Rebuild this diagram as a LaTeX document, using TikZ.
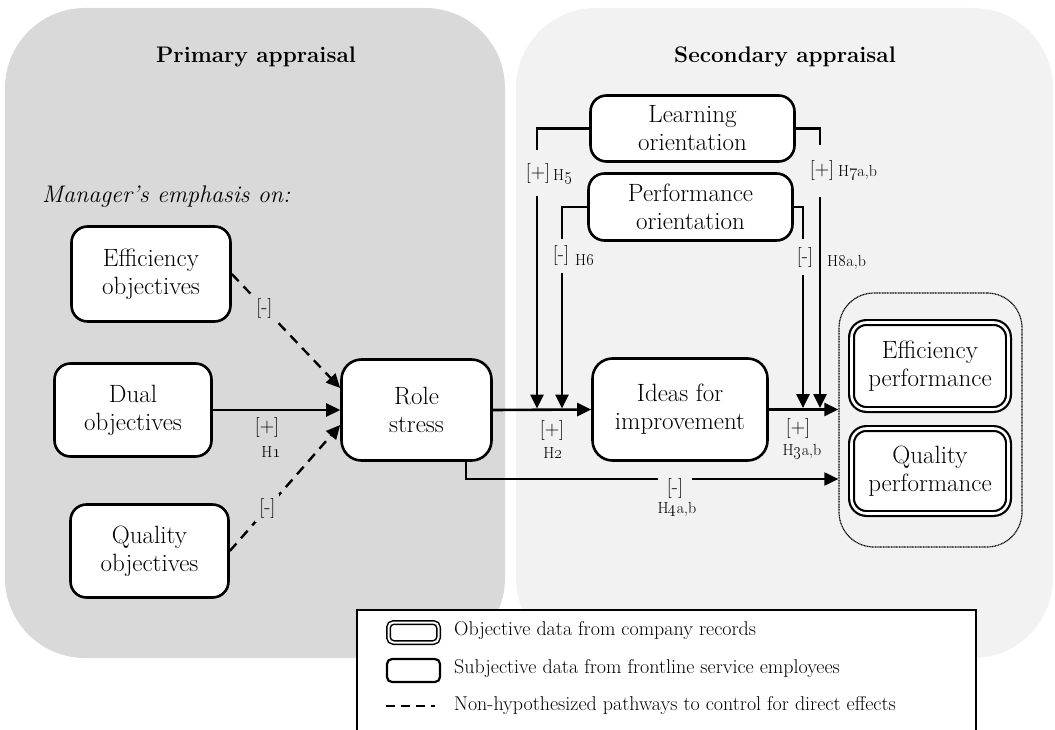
\documentclass[tikz,border=0pt]{standalone}
\usetikzlibrary{arrows.meta}
\definecolor{primbg}{HTML}{D9D9D9}
\definecolor{secbg}{HTML}{F2F2F2}
\newcommand{\osn}[1]{\oldstylenums{#1}}
\begin{document}
\begin{tikzpicture}[x=1pt,y=-1pt,
  panel/.style={rounded corners=80pt},
  subj/.style={draw, line width=2.6pt, rounded corners=16pt, fill=white,
    align=center, inner sep=0pt, font=\fontsize{25}{28}\selectfont},
  obj/.style={draw, double=white, double distance=2.6pt, line width=2.2pt,
    rounded corners=15pt, fill=white, align=center, inner sep=0pt,
    font=\fontsize{25}{28}\selectfont},
  link/.style={line width=2.6pt, -{Triangle[length=14pt,width=13pt]}},
  thinlink/.style={line width=2pt, -{Triangle[length=14pt,width=13pt]}},
  ctrl/.style={line width=2.4pt, dash pattern=on 10pt off 7pt,
    -{Triangle[length=14pt,width=13pt]}},
  sign/.style={font=\fontsize{20}{22}\selectfont, inner sep=1pt},
  hyp/.style={font=\fontsize{16}{18}\selectfont, inner sep=1pt},
  title/.style={font=\fontsize{22.5}{26}\selectfont\bfseries},
  legtext/.style={font=\fontsize{20}{24}\selectfont, anchor=west, inner sep=0pt},
]
\clip (0,0) rectangle (1055,730);
\useasboundingbox (0,0) rectangle (1055,730);

% appraisal panels
\fill[primbg, panel] (5,8) rectangle (505,658);
\fill[secbg, panel] (516,8) rectangle (1053,658);

% legend frame (runs past the lower edge)
\draw[line width=1.6pt, fill=white] (357,610) rectangle (976,760);

% panel titles
\node[title] (ttlprim) at (256,57) {Primary appraisal};
\node[title] (ttlsec) at (785,57) {Secondary appraisal};
\node[font=\fontsize{24}{28}\selectfont\itshape, anchor=west, inner sep=0pt]
  (emph) at (42,197) {Manager's emphasis on:};

% constructs
\node[subj, minimum width=159pt, minimum height=95pt] (effobj) at (151,274) {Efficiency\\objectives};
\node[subj, minimum width=157pt, minimum height=93pt] (dualobj) at (133,410) {Dual\\objectives};
\node[subj, minimum width=158pt, minimum height=93pt] (qualobj) at (149.5,551) {Quality\\objectives};
\node[subj, minimum width=150pt, minimum height=101pt, rounded corners=20pt] (role) at (416.5,410) {Role\\stress};
\node[subj, minimum width=175pt, minimum height=102pt, rounded corners=20pt] (ideas) at (680,409.5) {Ideas for\\improvement};
\node[subj, minimum width=204pt, minimum height=66pt] (learn) at (692.5,128.5) {Learning\\orientation};
\node[subj, minimum width=204pt, minimum height=67pt] (perfo) at (690.5,207) {Performance\\orientation};

% outcome group
\node[draw, line width=1.2pt, dash pattern=on 1pt off 0.6pt, rounded corners=35pt,
  minimum width=183pt, minimum height=254pt] (grp) at (930.5,420) {};
\node[obj, minimum width=157pt, minimum height=87pt] (effperf) at (930,366) {Efficiency\\performance};
\node[obj, minimum width=157pt, minimum height=85pt] (qualperf) at (930,471) {Quality\\performance};

% joints on the main path
\coordinate (j5) at (537,408.5);
\coordinate (j6) at (562,408.5);
\coordinate (j8) at (803,408);
\coordinate (j7) at (820,408);
\coordinate (h4) at (466,479);

% control paths
\draw[ctrl] (effobj.east) -- ([yshift=22pt]role.west)
  node[sign, pos=0.3, fill=primbg, inner sep=4pt] (s0) {[-]};
\draw[ctrl] (qualobj.east) -- ([yshift=-15pt]role.west)
  node[sign, pos=0.34, fill=primbg, inner sep=4pt] (s0b) {[-]};

% hypothesized paths
\draw[link] (dualobj.east) -- (role.west);
\draw[link] (role.east) -- (ideas.west);
\draw[link] (ideas.east) -- (ideas.east -| grp.west);
\draw[thinlink] (role.south -| h4) -- (h4) -- (h4 -| grp.west);

\draw[link] (learn.west) -| (j5);
\draw[link] (perfo.west) -| (j6);
\draw[link] (learn.east) -| (j7);
\draw[link] (perfo.east) -| (j8);

% path labels
\node[sign] (s1) at (267,427) {[+]};
\node[hyp] (h1) at (271,452) {H\osn{1}};
\node[sign] (s2) at (552,430) {[+]};
\node[hyp] (h2) at (553,453) {H\osn{2}};
\node[sign] (s3) at (798,428) {[+]};
\node[hyp] (h3) at (802,452) {H\osn{3}a,b};
\node[sign, fill=secbg, inner xsep=9pt, inner ysep=3pt] (s4) at (675,488) {[-]};
\node[hyp] (h4l) at (677,510) {H\osn{4}a,b};

\node[sign, fill=secbg, minimum height=46pt, inner xsep=1pt] (s5) at (538,173.5) {[+]};
\node[hyp, anchor=west] (h5) at (552,177) {H\osn{5}};
\node[sign, fill=secbg, minimum height=34pt, inner xsep=1pt] (s6) at (561,256) {[-]};
\node[hyp, anchor=west] (h6) at (574,260) {H\osn{6}};
\node[sign, fill=secbg, minimum height=52pt, inner xsep=1pt] (s7) at (822,171) {[+]};
\node[hyp, anchor=west] (h7) at (837,173) {H\osn{7}a,b};
\node[sign, fill=secbg, minimum height=35pt, inner xsep=1pt] (s8) at (805,257) {[-]};
\node[hyp, anchor=west] (h8) at (826,262) {H\osn{8}a,b};

% legend
\node[obj, double distance=2pt, line width=1.5pt, rounded corners=5pt,
  minimum width=50pt, minimum height=20pt] (legobj) at (413.5,632.5) {};
\node[subj, line width=2.2pt, rounded corners=5pt,
  minimum width=53pt, minimum height=23pt] (legsubj) at (413.5,670.5) {};
\coordinate (legda) at (386,706);
\coordinate (legdb) at (435,706);
\draw[line width=2.5pt, dash pattern=on 9pt off 6pt] (legda) -- (legdb);
\node[legtext] (lt1) at (454,631) {Objective data from company records};
\node[legtext] (lt2) at (454,669) {Subjective data from frontline service employees};
\node[legtext] (lt3) at (454,706) {Non-hypothesized pathways to control for direct effects};
\end{tikzpicture}
\end{document}
